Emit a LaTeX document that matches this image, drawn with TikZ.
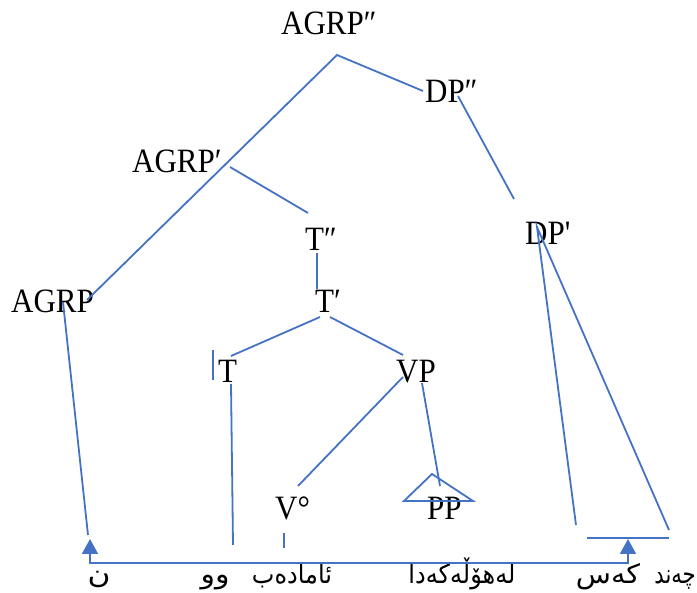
\documentclass[tikz,border=0pt]{standalone}
\usepackage{fontspec}
\usepackage{graphicx}
\setmainfont{Liberation Serif}[Ligatures=TeXOff]
\newfontfamily\arabicfont[Script=Arabic]{DejaVu Sans}
\TeXXeTstate=1
\usetikzlibrary{arrows.meta}
\definecolor{lblue}{RGB}{68,114,196}
\newcommand\tallx[1]{\scalebox{1}[1.1]{#1}}
\newcommand\kux[2]{\scalebox{#1}[1.1]{#2}}
\newcommand\dprime{′\kern-1pt′}
\tikzset{
  lab/.style={inner sep=0pt, anchor=base west, font=\fontsize{31}{31}\selectfont},
  ku/.style={inner sep=0pt, anchor=base, font=\arabicfont\fontsize{24}{24}\selectfont},
  br/.style={draw=lblue, line width=1.8pt},
  uparr/.style={br, {Triangle[width=16pt,length=15pt]}-{Triangle[width=16pt,length=15pt]}}
}
\begin{document}
\begin{tikzpicture}[x=1pt,y=-1pt]
\useasboundingbox (0,0) rectangle (697,593);
% labels
\node[lab] (agrp2) at (281,35)  {\tallx{AGRP\dprime}};
\node[lab] (dp2)   at (425,103) {\tallx{DP\dprime}};
\node[lab] (agrp1) at (132,173) {\tallx{AGRP′}};
\node[lab] (t2)    at (305,251) {\tallx{T\dprime}};
\node[lab] (dp1)   at (525,245) {\tallx{DP'}};
\node[lab] (agrp)  at (11,313)  {\tallx{AGRP}};
\node[lab] (t1)    at (315,313) {\tallx{T′}};
\node[lab] (t)     at (218,383) {\tallx{T}};
\node[lab] (vp)    at (396,383) {\tallx{VP}};
\node[lab] (v)     at (275,520) {\tallx{V°}};
\node[lab] (pp)    at (427,520) {\tallx{PP}};
% kurdish words
\node[ku] (w1) at (99,584)  {\kux{1.3}{\beginR ن\endR}};
\node[ku] (w2) at (215,584) {\kux{1.25}{\beginR وو\endR}};
\node[ku] (w3) at (292,584) {\kux{1}{\beginR ئامادەب\endR}};
\node[ku] (w4) at (462,584) {\kux{1}{\beginR لەهۆڵەکەدا\endR}};
\node[ku] (w5) at (608,584) {\kux{1.2}{\beginR کەس\endR}};
\node[ku, anchor=base east] (w6) at (696,584) {\kux{0.88}{\beginR چەند\endR}};
% coordinates
\coordinate (top)  at (337,55);
\coordinate (dp2l) at (423,91);
\coordinate (agrpr) at (87,300);
\coordinate (a1r) at (230,167);
\coordinate (t2t) at (308,213);
\coordinate (dp2b) at (458,96);
\coordinate (dp1t) at (514,199);
\coordinate (dp1a) at (537,227);
\coordinate (dpl) at (576,525);
\coordinate (dpr) at (669,530);
\coordinate (barl) at (587,538);
\coordinate (barr) at (669,538);
\coordinate (t2b) at (317,253);
\coordinate (t1t) at (317,289);
\coordinate (t1a) at (320,317);
\coordinate (t1b) at (330,317);
\coordinate (tt) at (231,356);
\coordinate (vpt) at (403,355);
\coordinate (sb1) at (213,350);
\coordinate (sb2) at (213,380);
\coordinate (tb) at (231,384);
\coordinate (tend) at (233,545);
\coordinate (vpa) at (403,377);
\coordinate (vt) at (298,486);
\coordinate (vpb) at (422,383);
\coordinate (ppend) at (440,486);
\coordinate (tril) at (404,501);
\coordinate (tria) at (432,474);
\coordinate (trir) at (473,501);
\coordinate (vb1) at (284,533);
\coordinate (vb2) at (284,548);
\coordinate (ag1) at (63,302);
\coordinate (ag2) at (88,535);
\coordinate (ar1) at (90,539);
\coordinate (ar2) at (90,563);
\coordinate (ar3) at (628,563);
\coordinate (ar4) at (628,539);
% branches
\draw[br] (dp2l) -- (top) -- (agrpr);
\draw[br] (a1r) -- (t2t);
\draw[br] (dp2b) -- (dp1t);
\draw[br] (dpl) -- (dp1a) -- (dpr);
\draw[br] (barl) -- (barr);
\draw[br] (t2b) -- (t1t);
\draw[br] (t1a) -- (tt);
\draw[br] (t1b) -- (vpt);
\draw[br] (sb1) -- (sb2);
\draw[br] (tb) -- (tend);
\draw[br] (vpa) -- (vt);
\draw[br] (vpb) -- (ppend);
\draw[br] (tril) -- (tria) -- (trir) -- cycle;
\draw[br] (vb1) -- (vb2);
\draw[br] (ag1) -- (ag2);
\draw[uparr] (ar1) -- (ar2) -- (ar3) -- (ar4);
\end{tikzpicture}
\end{document}
